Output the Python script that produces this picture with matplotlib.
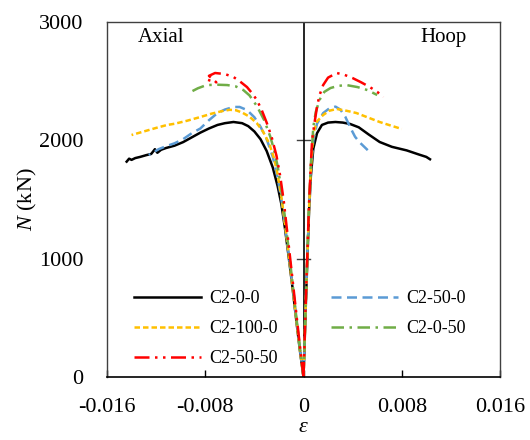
import matplotlib
matplotlib.use("Agg")
import matplotlib.pyplot as plt
import matplotlib.transforms as mtransforms

plt.rcParams["font.family"] = ["Liberation Serif", "DejaVu Serif"]
plt.rcParams["mathtext.fontset"] = "custom"
plt.rcParams["mathtext.rm"] = "Liberation Serif"
plt.rcParams["mathtext.it"] = "Liberation Serif:italic"

# ---- data (strain, axial force N in kN) ----
c200_ax_eps = [0, -0.0003, -0.0006, -0.0009, -0.0012, -0.0015, -0.0018, -0.0021, -0.0025, -0.0030,
               -0.0035, -0.0040, -0.0045, -0.0050, -0.0057, -0.0064, -0.0070, -0.0077, -0.0084,
               -0.0091, -0.0098, -0.0105, -0.0112, -0.0116, -0.0119, -0.0121, -0.0124, -0.0128,
               -0.0133, -0.0137, -0.0140, -0.0142, -0.0144]
c200_ax_n = [0, 230, 490, 760, 1010, 1250, 1460, 1610, 1770, 1910, 2010, 2075, 2120, 2145, 2155,
             2145, 2130, 2100, 2065, 2025, 1985, 1955, 1935, 1920, 1895, 1925, 1885, 1875, 1860,
             1850, 1835, 1845, 1820]
c200_hp_eps = [0, 0.00008, 0.00016, 0.00025, 0.00035, 0.00045, 0.0006, 0.0008, 0.0011, 0.0015,
               0.0020, 0.0026, 0.0032, 0.0038, 0.0045, 0.0053, 0.0062, 0.0072, 0.0084, 0.0094,
               0.0100, 0.0103]
c200_hp_n = [0, 250, 520, 800, 1100, 1400, 1700, 1930, 2060, 2130, 2150, 2155, 2150, 2138, 2110,
             2050, 1986, 1945, 1915, 1880, 1860, 1840]

c2500_ax_eps = [0, -0.0003, -0.0006, -0.0009, -0.0012, -0.0015, -0.0018, -0.0021, -0.0025, -0.0030,
                -0.0035, -0.0040, -0.0046, -0.0052, -0.0057, -0.0064, -0.0070, -0.0077, -0.0084,
                -0.0091, -0.0098, -0.0105, -0.0112, -0.0118, -0.0122, -0.0126]
c2500_ax_n = [0, 240, 500, 770, 1030, 1280, 1500, 1680, 1860, 2010, 2115, 2195, 2256, 2282, 2282,
              2260, 2231, 2170, 2100, 2060, 2010, 1975, 1950, 1925, 1900, 1876]
c2500_hp_eps = [0, 0.00008, 0.00016, 0.00025, 0.00035, 0.00045, 0.0006, 0.0008, 0.0011, 0.0016,
                0.0021, 0.0026, 0.0030, 0.0034, 0.0038, 0.0042, 0.0046, 0.0050, 0.0054]
c2500_hp_n = [0, 260, 540, 820, 1120, 1420, 1750, 2000, 2140, 2230, 2270, 2285, 2260, 2200, 2110,
              2030, 1980, 1940, 1900]

c21000_ax_eps = [0, -0.0003, -0.0006, -0.0009, -0.0012, -0.0015, -0.0018, -0.0021, -0.0024, -0.0028,
                 -0.0033, -0.0038, -0.0044, -0.0050, -0.0055, -0.0060, -0.0065, -0.0075, -0.0084,
                 -0.0095, -0.0105, -0.0111, -0.0120, -0.0130, -0.0140]
c21000_ax_n = [0, 240, 500, 770, 1030, 1290, 1520, 1710, 1850, 1975, 2075, 2145, 2200, 2235, 2254,
               2258, 2250, 2225, 2197, 2165, 2140, 2130, 2105, 2075, 2045]
c21000_hp_eps = [0, 0.00008, 0.00016, 0.00025, 0.00035, 0.00045, 0.0006, 0.0008, 0.0011, 0.0016,
                 0.0021, 0.0027, 0.0035, 0.0043, 0.0052, 0.0062, 0.0071, 0.0080]
c21000_hp_n = [0, 260, 540, 820, 1120, 1420, 1750, 2062, 2160, 2214, 2250, 2265, 2250, 2231, 2195,
               2155, 2125, 2096]

c2050_ax_eps = [0, -0.0003, -0.0006, -0.0009, -0.0012, -0.0015, -0.0018, -0.0021, -0.0024, -0.0027,
                -0.0032, -0.0038, -0.0044, -0.0049, -0.0055, -0.0062, -0.0070, -0.0079, -0.0086,
                -0.0092]
c2050_ax_n = [0, 250, 520, 800, 1070, 1340, 1580, 1780, 1920, 2030, 2170, 2290, 2380, 2425, 2455,
              2467, 2470, 2467, 2440, 2408]
c2050_hp_eps = [0, 0.00008, 0.00016, 0.00025, 0.00035, 0.00045, 0.0006, 0.0008, 0.0010, 0.0013,
                0.0017, 0.0022, 0.0028, 0.0035, 0.0044, 0.0052, 0.0060]
c2050_hp_n = [0, 270, 560, 850, 1150, 1460, 1800, 2113, 2240, 2341, 2410, 2442, 2460, 2467, 2450,
              2425, 2383]

c25050_ax_eps = [0, -0.0003, -0.0006, -0.0009, -0.0012, -0.0016, -0.0019, -0.0022, -0.0026, -0.0030,
                 -0.0034, -0.0038, -0.0042, -0.0046, -0.0052, -0.0057, -0.0064, -0.0072, -0.0077,
                 -0.0071, -0.0076, -0.0082]
c25050_ax_n = [0, 270, 550, 830, 1110, 1480, 1700, 1870, 2030, 2150, 2255, 2341, 2400, 2450, 2500,
               2535, 2560, 2569, 2545, 2490, 2505, 2525]
c25050_hp_eps = [0, 0.00008, 0.00016, 0.00025, 0.00035, 0.00045, 0.0006, 0.0007, 0.0009, 0.0011,
                 0.0013, 0.0016, 0.0020, 0.0027, 0.0033, 0.0040, 0.0047, 0.0054, 0.0060, 0.0065]
c25050_hp_n = [0, 270, 560, 850, 1150, 1460, 1800, 2003, 2150, 2282, 2380, 2467, 2530, 2569, 2555,
               2526, 2490, 2450, 2410, 2366]

x_ticks = [-0.016, -0.008, 0, 0.008, 0.016]
x_tick_labels = ["-0.016", "-0.008", "0", "0.008", "0.016"]
y_ticks = [0, 1000, 2000, 3000]

series = [
    ("C2-0-0", c200_ax_eps, c200_ax_n, c200_hp_eps, c200_hp_n,
     dict(color="black", lw=1.8, ls="-")),
    ("C2-50-0", c2500_ax_eps, c2500_ax_n, c2500_hp_eps, c2500_hp_n,
     dict(color="#5B9BD5", lw=1.8, dashes=(4, 2.2))),
    ("C2-100-0", c21000_ax_eps, c21000_ax_n, c21000_hp_eps, c21000_hp_n,
     dict(color="#FFC000", lw=1.8, dashes=(2.2, 1.2))),
    ("C2-0-50", c2050_ax_eps, c2050_ax_n, c2050_hp_eps, c2050_hp_n,
     dict(color="#70AD47", lw=1.8, dashes=(5, 2.2, 1, 2.2))),
    ("C2-50-50", c25050_ax_eps, c25050_ax_n, c25050_hp_eps, c25050_hp_n,
     dict(color="#FF0000", lw=1.8, dashes=(6, 2.2, 1, 2.2, 1, 2.2))),
]

fig = plt.figure(figsize=(5.3, 4.4), dpi=100)
ax = fig.add_axes([107 / 530, 1 - 377 / 440, 393 / 530, 355 / 440])

handles = {}
for name, ax_eps, ax_n, hp_eps, hp_n, style in series:
    ln, = ax.plot(ax_eps, ax_n, label=name, **style)
    ax.plot(hp_eps, hp_n, **style)
    handles[name] = ln

ax.set_xlim(-0.016, 0.016)
ax.set_ylim(0, 3000)
ax.set_xticks(x_ticks)
ax.set_xticklabels(x_tick_labels)
ax.set_yticks(y_ticks)
ax.tick_params(axis="x", direction="in", length=5, width=1, labelsize=16, pad=15)
ax.tick_params(axis="y", length=0, labelsize=16, pad=17)
for side in ["left", "right", "top"]:
    ax.spines[side].set_color("#404040")
    ax.spines[side].set_linewidth(1)
ax.spines["bottom"].set_color("black")
ax.spines["bottom"].set_linewidth(1.2)

# vertical axis drawn at zero strain with crossing ticks
ax.axvline(0, color="black", lw=1.2, zorder=1)
trans = mtransforms.blended_transform_factory(ax.transAxes, ax.transData)
for yv in y_ticks[1:-1]:
    ax.plot([0.5 - 0.016, 0.5 + 0.016], [yv, yv], color="#404040", lw=1,
            transform=trans, zorder=0.5)

ax.text(0.078, 0.955, "Axial", transform=ax.transAxes, fontsize=15, va="center", ha="left")
ax.text(0.916, 0.955, "Hoop", transform=ax.transAxes, fontsize=15, va="center", ha="right")

ax.set_ylabel(r"$\mathit{N}$ (kN)", fontsize=16, labelpad=0)
ax.set_xlabel(r"$\mathit{\varepsilon}$", fontsize=16, labelpad=1)

order = ["C2-0-0", "C2-100-0", "C2-50-50", "C2-50-0", "C2-0-50"]
ax.legend([handles[k] for k in order], order, ncol=2, frameon=False, fontsize=13,
          loc="upper left", bbox_to_anchor=(0.05, 0.265), borderaxespad=0,
          handlelength=3.7, handletextpad=0.45, columnspacing=3.0, labelspacing=0.72)

fig.savefig("out.png", dpi=100)
